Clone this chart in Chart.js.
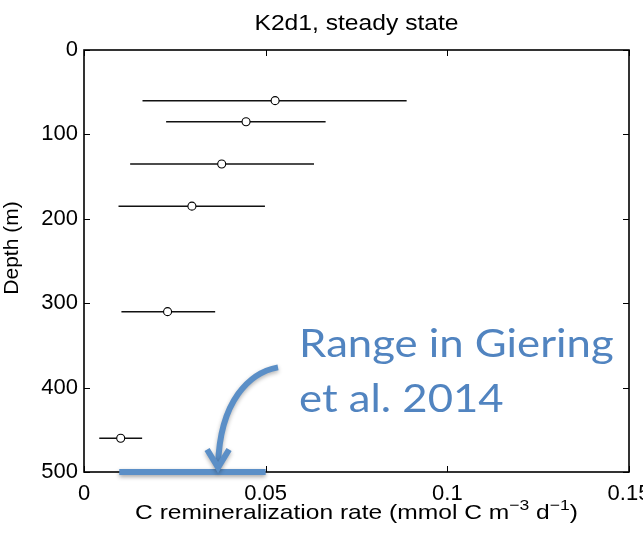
<!DOCTYPE html>
<html>
<head>
<meta charset="utf-8">
<script src="https://cdn.jsdelivr.net/npm/chart.js@4.4.1/dist/chart.umd.min.js"></script>
<style>
    html, body { margin: 0; padding: 0; background: #fff; }
</style>
</head>
<body>
<canvas id="chart" width="643" height="535"></canvas>
<script>
// K2d1 steady state - remineralization rate vs depth
const depths = [60, 85, 135, 185, 310, 460];
const rates = [0.0526, 0.0446, 0.0379, 0.0297, 0.0230, 0.0101];
const rateLow = [0.0161, 0.0226, 0.0127, 0.0095, 0.0103, 0.0042];
const rateHigh = [0.0888, 0.0665, 0.0633, 0.0498, 0.0361, 0.0160];

// Giering et al. 2014 range, drawn at the bottom of the profile
const gieringRange = [0.0097, 0.0500];
const gieringDepth = 500;

const xTicks = [0, 0.05, 0.1, 0.15];
const yTicks = [0, 100, 200, 300, 400, 500];

const FONT = "'Liberation Sans', Arial, Helvetica, sans-serif";
const BLUE = "#5b8fc7";
const TEXT_BLUE = "#5184c0";

Chart.defaults.font.family = FONT;
Chart.defaults.color = "#000";

// Error bars as two-point lines
const errorBars = depths.map((d, i) => ({
    type: "line",
    data: [
        { x: rateLow[i], y: d },
        { x: rateHigh[i], y: d },
    ],
    borderColor: "#111",
    borderWidth: 1.5,
    pointRadius: 0,
    order: 3,
}));

// Box with inward ticks on all four sides (matlab style)
const framePlugin = {
    id: "frame",
    beforeDatasetsDraw(chart) {
        const { ctx, chartArea: a, scales } = chart;
        ctx.save();
        ctx.strokeStyle = "#000";
        ctx.lineWidth = 1;
        ctx.beginPath();
        xTicks.forEach((v) => {
            const px = Math.round(scales.x.getPixelForValue(v)) + 0.5;
            ctx.moveTo(px, a.bottom);
            ctx.lineTo(px, a.bottom - 6);
            ctx.moveTo(px, a.top);
            ctx.lineTo(px, a.top + 6);
        });
        yTicks.forEach((v) => {
            const py = Math.round(scales.y.getPixelForValue(v)) + 0.5;
            ctx.moveTo(a.left, py);
            ctx.lineTo(a.left + 6, py);
            ctx.moveTo(a.right, py);
            ctx.lineTo(a.right - 6, py);
        });
        ctx.stroke();
        ctx.lineWidth = 1.6;
        ctx.strokeRect(a.left, a.top, a.right - a.left, a.bottom - a.top);
        ctx.restore();
    },
};

// Soft shadow for the highlighted range line
const shadowPlugin = {
    id: "shadow",
    beforeDatasetDraw(chart, args) {
        if (!chart.data.datasets[args.index].shadow) return;
        const ctx = chart.ctx;
        ctx.save();
        ctx.shadowColor = "rgba(0, 0, 0, 0.35)";
        ctx.shadowBlur = 4;
        ctx.shadowOffsetY = 2;
    },
    afterDatasetDraw(chart, args) {
        if (chart.data.datasets[args.index].shadow) chart.ctx.restore();
    },
};

// text drawn slightly wider than the font, like the original export
function wideText(ctx, text, x, y, sx) {
    ctx.save();
    ctx.translate(x, y);
    ctx.scale(sx, 1);
    ctx.fillText(text, 0, 0);
    ctx.restore();
}

// Title, axis titles and the annotation
const textPlugin = {
    id: "texts",
    afterDraw(chart) {
        const { ctx, chartArea: a, scales } = chart;
        const cx = (a.left + a.right) / 2;
        ctx.save();
        ctx.fillStyle = "#000";
        ctx.textBaseline = "alphabetic";

        // title
        ctx.font = "22px " + FONT;
        ctx.textAlign = "center";
        wideText(ctx, "K2d1, steady state", cx, 30, 1.12);

        // x axis title with superscripts
        const sx = 1.17;
        const parts = [
            ["C remineralization rate (mmol C m", false],
            ["\u22123", true],
            [" d", false],
            ["\u22121", true],
            [")", false],
        ];
        const mainFont = "21px " + FONT;
        const supFont = "15px " + FONT;
        let total = 0;
        parts.forEach(([t, sup]) => {
            ctx.font = sup ? supFont : mainFont;
            total += ctx.measureText(t).width * sx;
        });
        let px = cx - total / 2;
        ctx.textAlign = "left";
        parts.forEach(([t, sup]) => {
            ctx.font = sup ? supFont : mainFont;
            wideText(ctx, t, px, sup ? 510 : 519, sx);
            px += ctx.measureText(t).width * sx;
        });

        // y axis title
        ctx.save();
        ctx.translate(18, 248);
        ctx.rotate(-Math.PI / 2);
        ctx.font = "21px " + FONT;
        ctx.textAlign = "center";
        ctx.fillText("Depth (m)", 0, 0);
        ctx.restore();

        // annotation text
        const x = scales.x, y = scales.y;
        ctx.fillStyle = TEXT_BLUE;
        ctx.font = "39px Lato, 'Open Sans', sans-serif";
        ctx.textAlign = "left";
        wideText(ctx, "Range in Giering", x.getPixelForValue(0.0592), y.getPixelForValue(364), 1.12);
        wideText(ctx, "et al. 2014", x.getPixelForValue(0.0592), y.getPixelForValue(429), 1.12);

        // curved arrow pointing at the range line
        const p0 = [x.getPixelForValue(0.0534), y.getPixelForValue(376)];
        const c1 = [x.getPixelForValue(0.0457), y.getPixelForValue(382)];
        const c2 = [x.getPixelForValue(0.0374), y.getPixelForValue(415)];
        const tip = [x.getPixelForValue(0.0369), y.getPixelForValue(497)];
        ctx.strokeStyle = BLUE;
        ctx.lineWidth = 6;
        ctx.shadowColor = "rgba(0, 0, 0, 0.3)";
        ctx.shadowBlur = 4;
        ctx.shadowOffsetY = 2;
        ctx.beginPath();
        ctx.moveTo(p0[0], p0[1]);
        ctx.bezierCurveTo(c1[0], c1[1], c2[0], c2[1], tip[0], tip[1] - 4);
        ctx.stroke();
        ctx.lineJoin = "miter";
        ctx.beginPath();
        ctx.moveTo(tip[0] - 11, tip[1] - 20);
        ctx.lineTo(tip[0], tip[1] - 2);
        ctx.lineTo(tip[0] + 11, tip[1] - 20);
        ctx.stroke();
        ctx.restore();
    },
};

new Chart(document.getElementById("chart"), {
    type: "scatter",
    data: {
        datasets: [
            {
                type: "line",
                data: [
                    { x: gieringRange[0], y: gieringDepth },
                    { x: gieringRange[1], y: gieringDepth },
                ],
                borderColor: BLUE,
                borderWidth: 6,
                borderCapStyle: "butt",
                pointRadius: 0,
                clip: false,
                shadow: true,
                order: 0,
            },
            {
                data: depths.map((d, i) => ({ x: rates[i], y: d })),
                pointStyle: "circle",
                pointRadius: 4,
                borderColor: "#000",
                backgroundColor: "#fff",
                borderWidth: 1.1,
                order: 1,
            },
            ...errorBars,
        ],
    },
    options: {
        responsive: false,
        animation: false,
        layout: { padding: { top: 50, right: 14, left: 0, bottom: 0 } },
        plugins: {
            legend: { display: false },
            tooltip: { enabled: false },
        },
        scales: {
            x: {
                type: "linear",
                min: 0,
                max: 0.15,
                grid: { display: false, drawTicks: false },
                border: { display: false },
                afterBuildTicks: (s) => { s.ticks = xTicks.map((v) => ({ value: v })); },
                afterFit: (s) => { s.height = 63; s.paddingLeft = 0; s.paddingRight = 0; },
                ticks: {
                    padding: 9,
                    maxRotation: 0,
                    autoSkip: false,
                    font: { size: 22 },
                    callback: (v) => String(v),
                },
            },
            y: {
                type: "linear",
                reverse: true,
                min: 0,
                max: 500,
                grid: { display: false, drawTicks: false },
                border: { display: false },
                afterBuildTicks: (s) => { s.ticks = yTicks.map((v) => ({ value: v })); },
                afterFit: (s) => { s.width = 84; s.paddingTop = 0; s.paddingBottom = 0; },
                ticks: {
                    padding: 6,
                    autoSkip: false,
                    font: { size: 22 },
                    callback: (v) => String(v),
                },
            },
        },
    },
    plugins: [framePlugin, shadowPlugin, textPlugin],
});
</script>
</body>
</html>
